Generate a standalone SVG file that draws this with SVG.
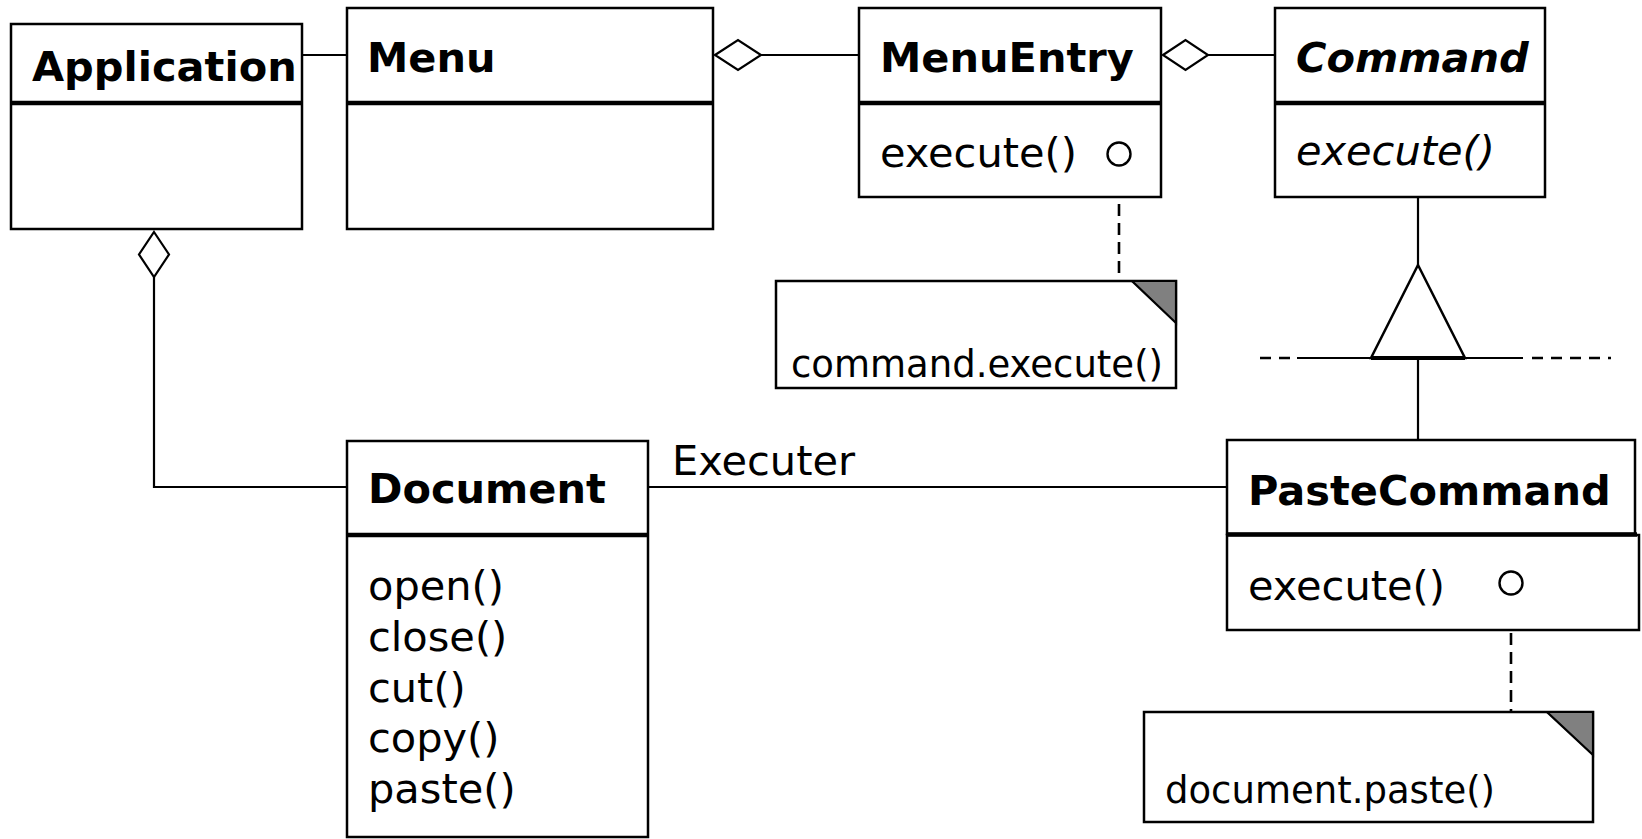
<svg xmlns="http://www.w3.org/2000/svg" width="1642" height="839" viewBox="0 0 1642 839">
  <style>
    .box { fill: #ffffff; stroke: #000000; stroke-width: 2.5; }
    .div { stroke: #000000; stroke-width: 4.5; }
    .line { fill: none; stroke: #000000; stroke-width: 2.2; }
    .dash { fill: none; stroke: #000000; stroke-width: 2.6; stroke-dasharray: 12 7; }
    .dash2 { fill: none; stroke: #000000; stroke-width: 2.6; stroke-dasharray: 11 8; }
    .diamond { fill: #ffffff; stroke: #000000; stroke-width: 2.2; }
    .fold { fill: #808080; stroke: #000000; stroke-width: 2.2; }
    .pin { fill: #ffffff; stroke: #000000; stroke-width: 2.4; }
    .title { font-family: "DejaVu Sans", "Liberation Sans", sans-serif; font-size: 41.5px; font-weight: bold; fill: #000000; }
    .op { font-family: "DejaVu Sans", "Liberation Sans", sans-serif; font-size: 41.5px; fill: #000000; }
    .note { font-family: "DejaVu Sans", "Liberation Sans", sans-serif; font-size: 37px; fill: #000000; }
    .abstract { font-style: oblique; }
  </style>

  <!-- connectors -->
  <g id="connectors">
    <!-- Application — Menu -->
    <line class="line" x1="302" y1="55" x2="347" y2="55"/>
    <!-- Menu ◇— MenuEntry -->
    <line class="line" x1="761" y1="55" x2="859" y2="55"/>
    <polygon class="diamond" points="715,55 738,40 761,55 738,70"/>
    <!-- MenuEntry ◇— Command -->
    <line class="line" x1="1208" y1="55" x2="1275" y2="55"/>
    <polygon class="diamond" points="1163,55 1185.5,40 1208,55 1185.5,70"/>
    <!-- Application ◇— Document -->
    <polyline class="line" points="154,277 154,487 347,487"/>
    <polygon class="diamond" points="154,232 169,254.5 154,277 139,254.5"/>
    <!-- Document — PasteCommand (Executer) -->
    <line class="line" x1="648" y1="487" x2="1227" y2="487"/>
    <text class="op" x="672" y="475">Executer</text>
    <!-- inheritance Command ◁— PasteCommand -->
    <line class="line" x1="1418" y1="197" x2="1418" y2="265"/>
    <polygon class="diamond" points="1418,265 1465,358 1371,358" style="stroke-width:2.5"/>
    <line class="line" x1="1371" y1="358" x2="1465" y2="358" style="stroke-width:4"/>
    <line class="line" x1="1297" y1="358" x2="1523" y2="358"/>
    <line class="dash2" x1="1260" y1="358" x2="1297" y2="358"/>
    <line class="dash2" x1="1532" y1="358" x2="1611" y2="358"/>
    <line class="line" x1="1418" y1="358" x2="1418" y2="440"/>
    <!-- note anchors -->
    <line class="dash" x1="1119" y1="166" x2="1119" y2="281"/>
    <line class="dash" x1="1511" y1="595" x2="1511" y2="712"/>
  </g>

  <g id="Application">
    <rect class="box" x="11" y="24" width="291" height="205"/>
    <line class="div" x1="11" y1="103" x2="302" y2="103"/>
    <text class="title" x="32" y="81">Application</text>
  </g>

  <g id="Menu">
    <rect class="box" x="347" y="8" width="366" height="221"/>
    <line class="div" x1="347" y1="103" x2="713" y2="103"/>
    <text class="title" x="367" y="72">Menu</text>
  </g>

  <g id="MenuEntry">
    <rect class="box" x="859" y="8" width="302" height="189"/>
    <line class="div" x1="859" y1="103" x2="1161" y2="103"/>
    <text class="title" x="880" y="72">MenuEntry</text>
    <text class="op" x="880" y="167">execute()</text>
    <circle class="pin" cx="1119" cy="154" r="11.5"/>
  </g>

  <g id="Command">
    <rect class="box" x="1275" y="8" width="270" height="189"/>
    <line class="div" x1="1275" y1="103" x2="1545" y2="103"/>
    <text class="title abstract" x="1296" y="72">Command</text>
    <text class="op abstract" x="1296" y="165">execute()</text>
  </g>

  <g id="Document">
    <rect class="box" x="347" y="441" width="301" height="396"/>
    <line class="div" x1="347" y1="535" x2="648" y2="535"/>
    <text class="title" x="368" y="503">Document</text>
    <text class="op" x="368" y="600">open()</text>
    <text class="op" x="368" y="651">close()</text>
    <text class="op" x="368" y="702">cut()</text>
    <text class="op" x="368" y="752">copy()</text>
    <text class="op" x="368" y="803">paste()</text>
  </g>

  <g id="PasteCommand">
    <rect class="box" x="1227" y="440" width="408" height="94"/>
    <rect class="box" x="1227" y="535" width="412" height="95"/>
    <line class="div" x1="1227" y1="534.5" x2="1637" y2="534.5"/>
    <text class="title" x="1248" y="505">PasteCommand</text>
    <text class="op" x="1248" y="600">execute()</text>
    <circle class="pin" cx="1511" cy="583" r="11.5"/>
  </g>

  <g id="note-menuentry">
    <rect class="box" x="776" y="281" width="400" height="107"/>
    <polygon class="fold" points="1132,281 1176,281 1176,323"/>
    <text class="note" x="791" y="377">command.execute()</text>
  </g>

  <g id="note-pastecommand">
    <rect class="box" x="1144" y="712" width="449" height="110"/>
    <polygon class="fold" points="1547,712 1593,712 1593,755"/>
    <text class="note" x="1165" y="803">document.paste()</text>
  </g>
</svg>
